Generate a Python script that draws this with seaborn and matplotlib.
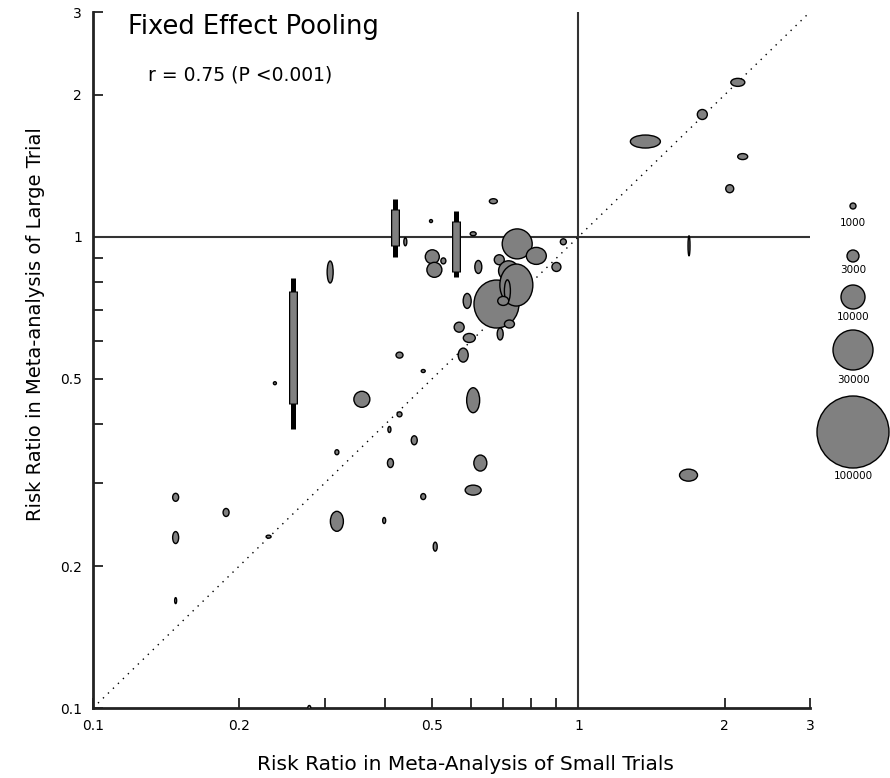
import numpy as np
import pandas as pd
import matplotlib
matplotlib.use("Agg")
import matplotlib.pyplot as plt
from matplotlib.collections import EllipseCollection
import seaborn as sns

# ---------------- data ----------------
small_rr = [0.308, 0.44, 0.497, 0.50, 0.505, 0.527, 0.607,
            0.668, 0.622, 0.748, 0.819, 0.687, 0.718, 0.678, 0.745, 0.714, 0.70,
            0.901, 0.931, 0.59, 0.568, 0.596, 0.579, 0.721, 0.69, 0.428, 0.479,
            0.358, 0.607, 0.428, 0.408, 0.459, 0.318, 0.41, 0.628, 0.607, 0.479,
            0.148, 0.188, 0.318, 0.398, 0.148, 0.23, 0.507, 0.148, 0.237,
            1.374, 1.80, 2.13, 2.18, 2.05, 1.69, 1.686, 0.279]
large_rr = [0.842, 0.976, 1.08, 0.907, 0.851, 0.889, 1.015,
            1.19, 0.863, 0.966, 0.911, 0.894, 0.847, 0.72, 0.79, 0.768, 0.731,
            0.863, 0.976, 0.731, 0.643, 0.61, 0.561, 0.653, 0.622, 0.561, 0.519,
            0.452, 0.450, 0.42, 0.39, 0.37, 0.349, 0.331, 0.331, 0.29, 0.281,
            0.28, 0.26, 0.249, 0.25, 0.23, 0.231, 0.22, 0.169, 0.489,
            1.593, 1.818, 2.127, 1.48, 1.265, 0.957, 0.312, 0.1]
# marker extent (precision of small-trial / large-trial estimates), pixels
prec_small = [6, 3, 3, 14, 15, 5, 6,
              8, 7, 30, 20, 10, 20, 45, 33, 6, 11,
              9, 6, 8, 10, 12, 10, 10, 6, 7, 4,
              16, 13, 5, 3, 6, 4, 6, 13, 16, 5,
              6, 6, 13, 3, 6, 5, 4, 2, 3,
              30, 10, 14, 10, 8, 2, 18, 3]
prec_large = [22, 8, 3, 14, 15, 6, 4,
              5, 13, 30, 17, 10, 20, 48, 42, 22, 9,
              9, 6, 15, 10, 9, 14, 8, 12, 6, 3,
              16, 25, 5, 6, 9, 5, 9, 16, 10, 6,
              8, 8, 20, 6, 12, 3, 9, 6, 3,
              13, 10, 8, 6, 8, 20, 12, 5]
# trials drawn as bars with whiskers (large-trial range / whisker range)
bar_x = [0.258, 0.418, 0.56]
bar_lo = [0.441, 0.957, 0.842]
bar_hi = [0.768, 1.147, 1.081]
whisk_lo = [0.39, 0.907, 0.822]
whisk_hi = [0.818, 1.205, 1.136]

legend_n = [1000, 3000, 10000, 30000, 100000]
legend_d = [6, 12, 24, 40, 72]

ticks = [0.1, 0.2, 0.3, 0.4, 0.5, 0.6, 0.7, 0.8, 0.9, 1, 2, 3]
tick_labels = ["0.1", "0.2", "", "", "0.5", "", "", "", "", "1", "2", "3"]

# ---------------- style ----------------
sns.set_style("ticks")
plt.rcParams["font.family"] = ["DejaVu Sans"]
plt.rcParams["text.color"] = "black"
plt.rcParams["axes.labelcolor"] = "black"
plt.rcParams["xtick.color"] = "black"
plt.rcParams["ytick.color"] = "black"

W, H = 890, 778
fig = plt.figure(figsize=(W / 100, H / 100), dpi=100)
ax = fig.add_axes([93 / W, 1 - 708 / H, (810 - 93) / W, (708 - 12) / H])
ax.set_xscale("log")
ax.set_yscale("log")
ax.set_xlim(0.1, 3)
ax.set_ylim(0.1, 3)

gray = "#808080"
pt = 0.72

# reference lines
ax.axhline(1, color="#333333", lw=1.5, zorder=1)
ax.axvline(1, color="#333333", lw=1.5, zorder=1)
diag = pd.DataFrame({"x": [0.1, 3], "y": [0.1, 3]})
sns.lineplot(data=diag, x="x", y="y", ax=ax, color="black", lw=1,
             linestyle=(0, (1, 4)), zorder=1)

# bars with whiskers
edge_f = 10 ** (1.2 / 470)  # ~1 px inset for the gray fill
for xb, lo, hi, wl, wh in zip(bar_x, bar_lo, bar_hi, whisk_lo, whisk_hi):
    ax.plot([xb, xb], [wl, wh], color="black", lw=3.6, solid_capstyle="butt", zorder=2)
    ax.plot([xb, xb], [lo, hi], color="black", lw=9 * pt, solid_capstyle="butt", zorder=2.5)
    ax.plot([xb, xb], [lo * edge_f, hi / edge_f], color=gray, lw=6.5 * pt,
            solid_capstyle="butt", zorder=2.6)

# ellipses
offsets = np.column_stack([small_rr, large_rr])
ec = EllipseCollection(np.array(prec_small) * pt, np.array(prec_large) * pt,
                       np.zeros(len(small_rr)), units="points",
                       offsets=offsets, offset_transform=ax.transData,
                       facecolors=gray, edgecolors="black", linewidths=1.0,
                       zorder=3)
ax.add_collection(ec)

# axes styling
sns.despine(ax=ax)
for s in ["left", "bottom"]:
    ax.spines[s].set_linewidth(2)
    ax.spines[s].set_color("#222222")
ax.set_xticks(ticks)
ax.set_xticklabels(tick_labels)
ax.set_yticks(ticks)
ax.set_yticklabels(tick_labels)
ax.xaxis.set_minor_locator(matplotlib.ticker.NullLocator())
ax.yaxis.set_minor_locator(matplotlib.ticker.NullLocator())
ax.tick_params(direction="in", length=7, width=1.3, labelsize=10,
               color="#222222", labelcolor="black", pad=8)

ax.set_xlabel("Risk Ratio in Meta-Analysis of Small Trials", fontsize=14.5, color="black")
ax.xaxis.set_label_coords(0.52, -0.068)
ax.set_ylabel("Risk Ratio in Meta-analysis of Large Trial", fontsize=14, color="black")
ax.yaxis.set_label_coords(-0.067, 0.552)

fig.text(128 / W, 1 - 14 / H, "Fixed Effect Pooling", fontsize=18.5,
         va="top", ha="left", color="black")
fig.text(148 / W, 1 - 75 / H, "r = 0.75 (P <0.001)", fontsize=13.5,
         va="center", ha="left", color="black")

# size legend at right
lax = fig.add_axes([0, 0, 1, 1], facecolor="none")
lax.set_xlim(0, W)
lax.set_ylim(H, 0)
lax.axis("off")
leg_y = [206, 256, 297, 350, 432]
lab_y = [223, 270, 317, 380, 476]
leg_df = pd.DataFrame({"x": [853] * 5, "y": leg_y, "n": legend_n})
sns.scatterplot(data=leg_df, x="x", y="y", size="n",
                sizes={n: (d * pt) ** 2 for n, d in zip(legend_n, legend_d)},
                color=gray, edgecolor="black", linewidth=1.0, ax=lax, legend=False)
for n, yy in zip(legend_n, lab_y):
    lax.text(853, yy, str(n), fontsize=7.5, ha="center", va="center", color="black")

fig.savefig("out.png", dpi=100)
